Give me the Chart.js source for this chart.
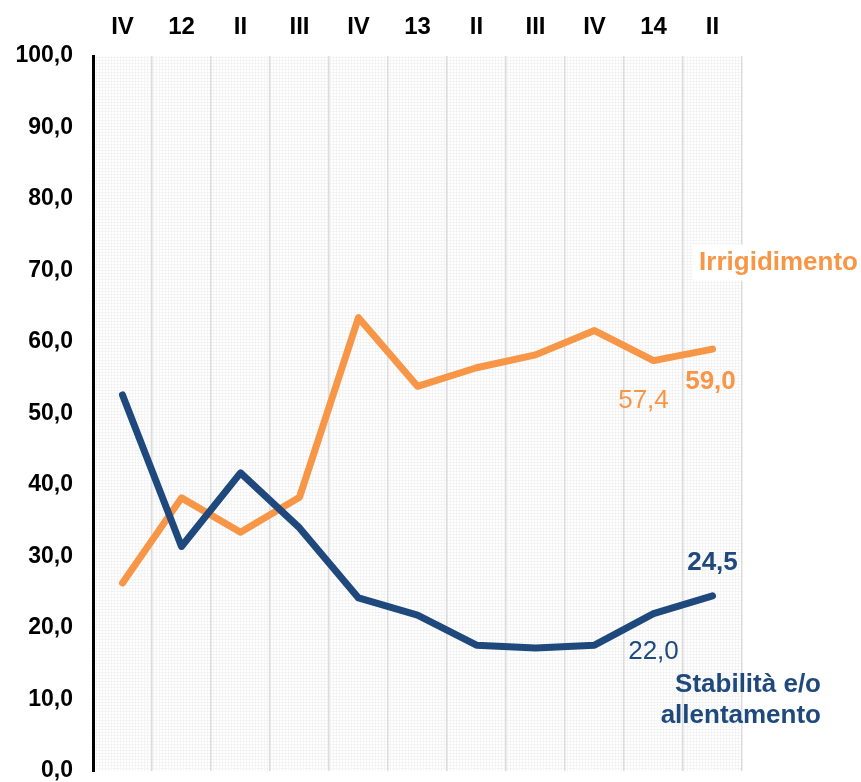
<!DOCTYPE html>
<html>
<head>
<meta charset="utf-8">
<script src="https://cdn.jsdelivr.net/npm/chart.js@4/dist/chart.umd.min.js"></script>
<style>
html,body{margin:0;padding:0;background:#fff;}
#wrap{width:861px;height:782px;}
</style>
</head>
<body>
<div id="wrap"><canvas id="c" width="861" height="782"></canvas></div>
<script>
const categories = ['IV','12','II','III','IV','13','II','III','IV','14','II'];
const irrigidimento = [26.3, 38.2, 33.4, 38.3, 63.4, 53.8, 56.4, 58.2, 61.6, 57.4, 59.0];
const stabilita = [52.6, 31.4, 41.7, 34.0, 24.2, 21.8, 17.6, 17.2, 17.6, 22.0, 24.5];
const seriesNames = ['Irrigidimento', ['Stabilità e/o', 'allentamento']];

const ORANGE = '#F79646';
const BLUE = '#1F497D';
const FONT = '"Liberation Sans", Arial, sans-serif';
const fmt = v => v.toFixed(1).replace('.', ',');

function makePattern(ctx){
  const p = document.createElement('canvas');
  p.width = 3; p.height = 3;
  const g = p.getContext('2d');
  g.fillStyle = '#ffffff'; g.fillRect(0,0,3,3);
  g.fillStyle = '#f4f4f4'; g.fillRect(0,0,3,1); g.fillRect(0,0,1,3);
  return ctx.createPattern(p, 'repeat');
}

const bgPlugin = {
  id: 'bg',
  beforeDraw(chart){
    const {ctx, chartArea:a} = chart;
    ctx.save();
    ctx.fillStyle = makePattern(ctx);
    ctx.fillRect(a.left, a.top, a.right - a.left, a.bottom - a.top);
    ctx.restore();
  }
};

const labelPlugin = {
  id: 'labels',
  afterDatasetsDraw(chart){
    const {ctx, chartArea:a} = chart;
    const xs = chart.scales.x, ys = chart.scales.y;
    const n = categories.length;
    const px = i => xs.getPixelForValue(i);
    const py = v => ys.getPixelForValue(v);
    ctx.save();
    ctx.textBaseline = 'middle';
    ctx.textAlign = 'center';
    // value labels
    ctx.fillStyle = ORANGE;
    ctx.font = 'bold 26px ' + FONT;
    ctx.fillText(fmt(irrigidimento[n-1]), px(n-1) - 2, py(irrigidimento[n-1]) + 33);
    ctx.font = '26px ' + FONT;
    ctx.fillText(fmt(irrigidimento[n-2]), px(n-2) - 10, py(irrigidimento[n-2]) + 40);
    ctx.fillStyle = BLUE;
    ctx.font = 'bold 26px ' + FONT;
    ctx.fillText(fmt(stabilita[n-1]), px(n-1), py(stabilita[n-1]) - 33);
    ctx.font = '26px ' + FONT;
    ctx.fillText(fmt(stabilita[n-2]), px(n-2), py(stabilita[n-2]) + 38);
    // series names
    ctx.font = 'bold 26px ' + FONT;
    ctx.textAlign = 'right';
    const ir = a.right + 116, iy = py(71.1);
    const w = ctx.measureText(seriesNames[0]).width;
    ctx.fillStyle = '#ffffff';
    ctx.fillRect(ir - w - 6, iy - 18, w + 10, 36);
    ctx.fillStyle = ORANGE;
    ctx.fillText(seriesNames[0], ir, iy);
    ctx.fillStyle = BLUE;
    const sr = a.right + 79;
    ctx.fillText(seriesNames[1][0], sr, py(12.0));
    ctx.fillText(seriesNames[1][1], sr, py(7.7));
    ctx.restore();
  }
};

new Chart(document.getElementById('c'), {
  type: 'line',
  data: {
    labels: categories,
    datasets: [
      {label: 'Irrigidimento', data: irrigidimento, borderColor: ORANGE, backgroundColor: ORANGE,
       borderWidth: 7, pointRadius: 0, tension: 0, order: 1,
       borderCapStyle: 'round', borderJoinStyle: 'round'},
      {label: 'Stabilità e/o allentamento', data: stabilita, borderColor: BLUE, backgroundColor: BLUE,
       borderWidth: 7, pointRadius: 0, tension: 0, order: 0,
       borderCapStyle: 'round', borderJoinStyle: 'round'}
    ]
  },
  options: {
    responsive: false,
    animation: false,
    events: [],
    layout: {padding: {left: 0, top: 0, right: 119, bottom: 11}},
    plugins: {legend: {display: false}, tooltip: {enabled: false}},
    scales: {
      x: {
        position: 'top',
        offset: true,
        grid: {display: true, offset: true, color: '#dcdcdc', lineWidth: 1.5, drawTicks: false},
        border: {display: false},
        ticks: {color: '#000', font: {family: FONT, size: 24, weight: 'bold'}, padding: 14, maxRotation: 0, autoSkip: false},
        afterFit(s){ s.height = 56; s.paddingLeft = 0; s.paddingRight = 0; }
      },
      y: {
        min: 0, max: 100,
        grid: {display: false, drawTicks: false},
        border: {display: true, color: '#000', width: 3},
        ticks: {stepSize: 10, color: '#000', font: {family: FONT, size: 23, weight: 'bold'}, padding: 20,
                callback: v => fmt(v)},
        afterFit(s){ s.width = 93; s.paddingTop = 0; s.paddingBottom = 0; }
      }
    }
  },
  plugins: [bgPlugin, labelPlugin]
});
</script>
</body>
</html>
